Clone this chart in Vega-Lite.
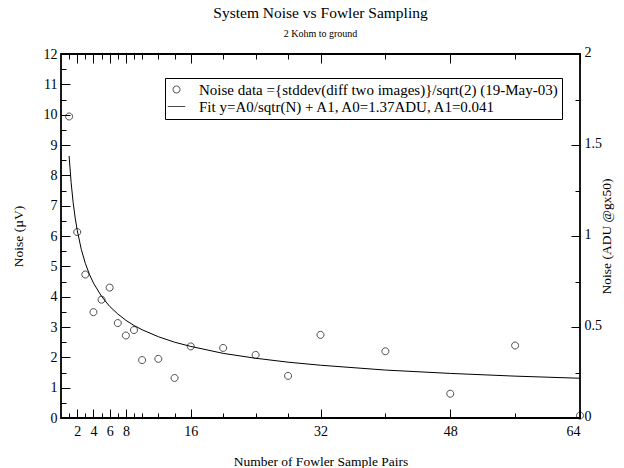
{
  "$schema": "https://vega.github.io/schema/vega-lite/v6.json",
  "width": 519,
  "height": 364,
  "autosize": {"type": "none"},
  "padding": {"left": 61, "top": 54, "right": 44, "bottom": 50},
  "background": "white",
  "title": {
    "text": "System Noise vs Fowler Sampling",
    "subtitle": "2 Kohm to ground",
    "font": "Liberation Serif",
    "fontSize": 15.5,
    "fontWeight": "normal",
    "color": "black",
    "subtitleFont": "Liberation Serif",
    "subtitleFontSize": 10,
    "subtitleColor": "black",
    "subtitlePadding": 8,
    "anchor": "middle",
    "offset": 6
  },
  "config": {
    "view": {"stroke": "black", "strokeWidth": 1.8},
    "axis": {
      "labelFont": "Liberation Serif",
      "labelFontSize": 14,
      "labelColor": "black",
      "titleFont": "Liberation Serif",
      "titleFontSize": 13.5,
      "titleFontWeight": "normal",
      "titleColor": "black",
      "tickColor": "black",
      "tickWidth": 1,
      "domain": false,
      "grid": false
    }
  },
  "datasets": {
    "noise": [
      {"N": 1, "V": 9.94},
      {"N": 2, "V": 6.13},
      {"N": 3, "V": 4.73},
      {"N": 4, "V": 3.49},
      {"N": 5, "V": 3.9},
      {"N": 6, "V": 4.3},
      {"N": 7, "V": 3.13},
      {"N": 8, "V": 2.72},
      {"N": 9, "V": 2.9},
      {"N": 10, "V": 1.91},
      {"N": 12, "V": 1.95},
      {"N": 14, "V": 1.32},
      {"N": 16, "V": 2.36},
      {"N": 20, "V": 2.31},
      {"N": 24, "V": 2.08},
      {"N": 28, "V": 1.39},
      {"N": 32, "V": 2.74},
      {"N": 40, "V": 2.2},
      {"N": 48, "V": 0.8},
      {"N": 56, "V": 2.39},
      {"N": 64, "V": 0.08}
    ],
    "fit": [
      {"N": 1, "V": 8.64},
      {"N": 1.25, "V": 7.76},
      {"N": 1.5, "V": 7.1},
      {"N": 1.75, "V": 6.59},
      {"N": 2, "V": 6.19},
      {"N": 2.5, "V": 5.56},
      {"N": 3, "V": 5.1},
      {"N": 3.5, "V": 4.74},
      {"N": 4, "V": 4.45},
      {"N": 5, "V": 4.01},
      {"N": 6, "V": 3.68},
      {"N": 7, "V": 3.43},
      {"N": 8, "V": 3.22},
      {"N": 9, "V": 3.05},
      {"N": 10, "V": 2.91},
      {"N": 12, "V": 2.68},
      {"N": 14, "V": 2.5},
      {"N": 16, "V": 2.36},
      {"N": 20, "V": 2.13},
      {"N": 24, "V": 1.97},
      {"N": 28, "V": 1.84},
      {"N": 32, "V": 1.74},
      {"N": 40, "V": 1.58},
      {"N": 48, "V": 1.47},
      {"N": 56, "V": 1.38},
      {"N": 64, "V": 1.31}
    ]
  },
  "layer": [
    {
      "data": {"name": "noise"},
      "mark": {"type": "point", "filled": false, "size": 196, "strokeWidth": 1, "color": "black"},
      "encoding": {
        "x": {
          "field": "N", "type": "quantitative",
          "scale": {"domain": [0, 64], "nice": false, "zero": false},
          "axis": {"orient": "bottom", "values": [2, 4, 6, 8, 16, 32, 48, 64], "tickSize": -9, "labelPadding": 15, "title": "Number of Fowler Sample Pairs", "titlePadding": 16}
        },
        "y": {
          "field": "V", "type": "quantitative",
          "scale": {"domain": [0, 12], "nice": false, "zero": false},
          "axis": {"orient": "left", "values": [0, 1, 2, 3, 4, 5, 6, 7, 8, 9, 10, 11, 12], "tickSize": -9, "labelPadding": 13, "title": "Noise (µV)", "titlePadding": 18}
        },
        "shape": {
          "datum": "Noise data ={stddev(diff two images)}/sqrt(2) (19-May-03)",
          "type": "nominal",
          "scale": {
            "domain": ["Noise data ={stddev(diff two images)}/sqrt(2) (19-May-03)", "Fit y=A0/sqtr(N) + A1, A0=1.37ADU, A1=0.041"],
            "range": ["M -0.5 0 A 0.5 0.5 0 1 1 0.5 0 A 0.5 0.5 0 1 1 -0.5 0 Z", "M -1.25 0 L 1.25 0"]
          },
          "legend": {
            "orient": "none",
            "legendX": 104,
            "legendY": 24,
            "title": null,
            "strokeColor": "black",
            "padding": 4,
            "labelFont": "Liberation Serif",
            "labelFontSize": 15,
            "labelColor": "black",
            "labelLimit": 600,
            "labelOffset": 15,
            "rowPadding": 1,
            "symbolSize": 196,
            "symbolFillColor": "transparent",
            "symbolStrokeColor": "black",
            "symbolStrokeWidth": 1
          }
        }
      }
    },
    {
      "data": {"name": "fit"},
      "mark": {"type": "line", "strokeWidth": 1, "color": "black"},
      "encoding": {
        "x": {
          "field": "N", "type": "quantitative",
          "axis": {"orient": "bottom", "values": [1, 3, 5, 7, 9, 10, 12, 14, 20, 24, 28, 40, 56], "tickSize": -5, "labels": false, "title": null}
        },
        "y": {
          "field": "V", "type": "quantitative",
          "axis": {"orient": "left", "values": [0.5, 1.5, 2.5, 3.5, 4.5, 5.5, 6.5, 7.5, 8.5, 9.5, 10.5, 11.5], "tickSize": -5, "labels": false, "title": null}
        }
      }
    },
    {
      "data": {"name": "noise"},
      "mark": {"type": "point", "opacity": 0},
      "encoding": {
        "x": {
          "field": "N", "type": "quantitative",
          "axis": {"orient": "top", "values": [2, 4, 6, 8, 16, 32, 48, 64], "tickSize": -9, "labels": false, "title": null}
        },
        "y": {
          "field": "V", "type": "quantitative",
          "axis": {"orient": "right", "values": [0, 3, 6, 9, 12], "labelExpr": "datum.value / 6", "tickSize": -9, "labelPadding": 13, "labelOffset": -2, "title": "Noise (ADU @gx50)", "titleAngle": -90, "titlePadding": 12}
        }
      }
    },
    {
      "data": {"name": "noise"},
      "mark": {"type": "point", "opacity": 0},
      "encoding": {
        "x": {
          "field": "N", "type": "quantitative",
          "axis": {"orient": "top", "values": [1, 3, 5, 7, 9, 10, 12, 14, 20, 24, 28, 40, 56], "tickSize": -5, "labels": false, "title": null}
        },
        "y": {
          "field": "V", "type": "quantitative",
          "axis": {"orient": "right", "values": [1.5, 4.5, 7.5, 10.5], "tickSize": -5, "labels": false, "title": null}
        }
      }
    }
  ],
  "resolve": {"axis": {"x": "independent", "y": "independent"}}
}
